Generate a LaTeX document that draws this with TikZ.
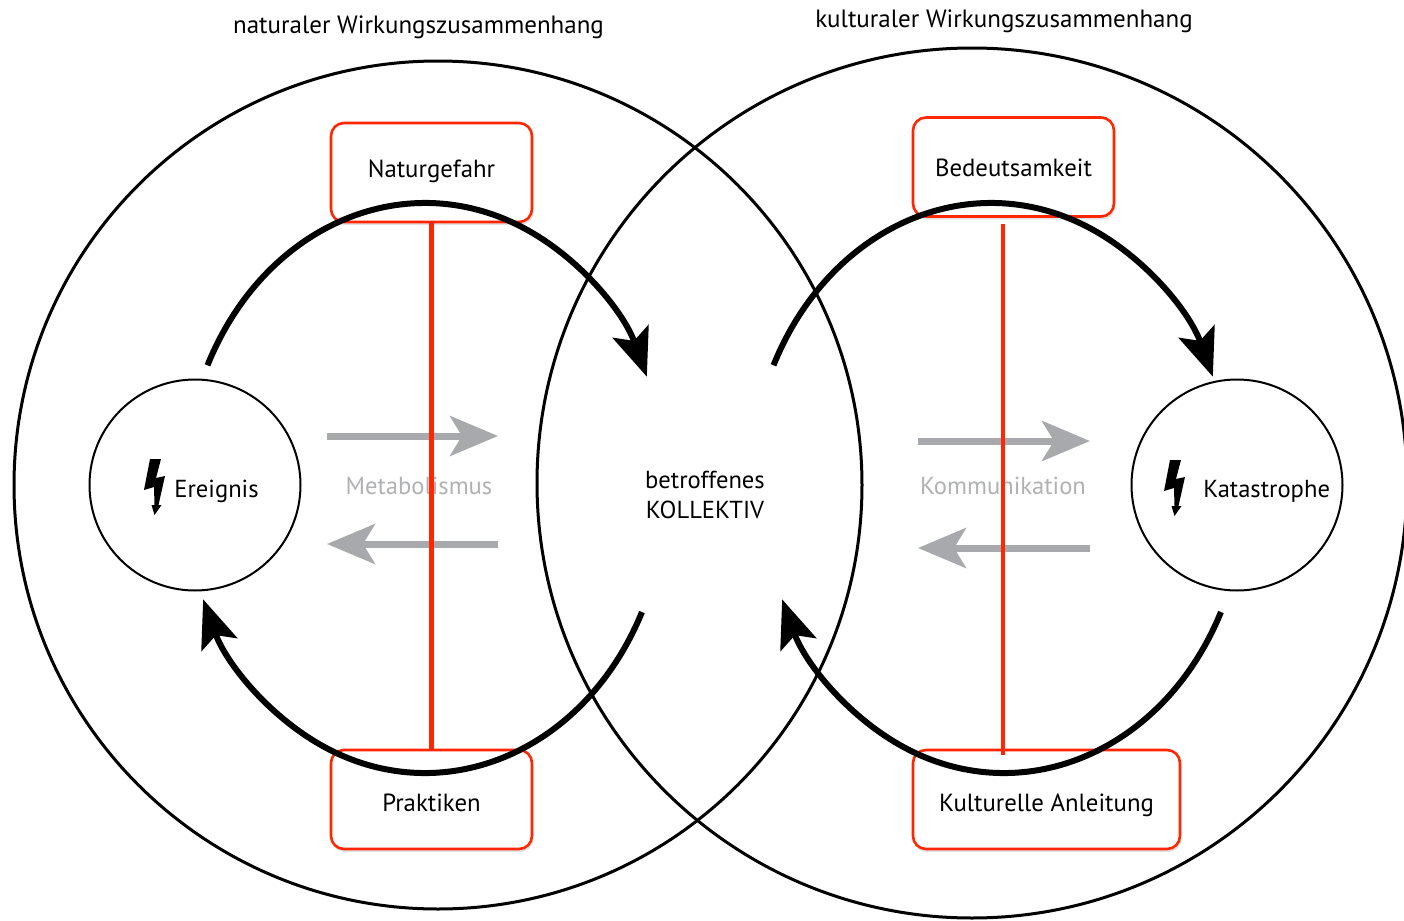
\documentclass[tikz,border=0pt]{standalone}
\usepackage{fontspec}
\setmainfont{PT Sans}
\usetikzlibrary{arrows.meta, shadows}
\tikzstyle{diagram} = [x = 0.5pt, y = -0.5pt]
\definecolor{boxRed}{RGB}{255,38,0}
\definecolor{arrowGray}{RGB}{167,169,172}
\definecolor{labelGray}{RGB}{176,177,179}
\tikzstyle{bigCircle} = [draw, circle, line width=1.5pt, inner sep=0pt]
\tikzstyle{eventCircle} = [draw, circle, line width=1pt, minimum size=105.5pt, inner sep=0pt]
\tikzstyle{redBox} = [draw=boxRed, fill=white, line width=1.3pt, rounded corners=6.5pt, minimum width=100.5pt, minimum height=49.5pt, text height=9pt, text depth=0pt, font=\fontsize{12.4}{14}\selectfont, drop shadow={shadow xshift=0.6pt, shadow yshift=-1.6pt, opacity=0.22}]
\tikzstyle{redLine} = [draw=boxRed, line width=2.4pt]
\tikzstyle{cycleArrow} = [line width=3pt, -{Stealth[length=24pt, width=19pt, inset=5pt]}]
\tikzstyle{grayArrow} = [draw=arrowGray, line width=3.5pt, -{Stealth[length=24pt, width=20pt, inset=6pt]}]
\tikzstyle{plainLabel} = [inner sep=0pt, font=\fontsize{12.3}{15}\selectfont]
\tikzstyle{grayLabel} = [plainLabel, text=labelGray]
\tikzstyle{titleLabel} = [plainLabel, anchor=base, font=\fontsize{12.5}{15}\selectfont]
\newcommand{\cycleArc}[3]{\draw [cycleArrow] ([shift={(#2:241 and 285)}]#1) arc [start angle=#2, end angle=#3, x radius=241, y radius=285];}
\newcommand{\lightningBolt}[2]{\fill [shift={(#1,#2)}] (0,0) -- (11,0) -- (6,19) -- (15,17) -- (8.5,46) -- (11.5,46) -- (4.5,56) -- (1.5,46) -- (4.5,46) -- (4,28) -- (-6,31) -- cycle;}

\begin{document}
\begin{tikzpicture}[diagram]
  \useasboundingbox (0,0) rectangle (1404,921);
  % the two fields
  \node [bigCircle, minimum size=424pt] (naturalField) at (438,485) {};
  \node [bigCircle, minimum size=435pt] (culturalField) at (972,483) {};
  \node [titleLabel] (naturalTitle) at (418.5,33) {naturaler Wirkungszusammenhang};
  \node [titleLabel] (culturalTitle) at (1004,27) {kulturaler Wirkungszusammenhang};
  % events
  \node [eventCircle] (ereignis) at (195,485) {};
  \node [eventCircle] (katastrophe) at (1237,485) {};
  \node [plainLabel, anchor=base west] (ereignisLabel) at ([shift={(-21,12)}]ereignis.center) {Ereignis};
  \node [plainLabel, anchor=base west] (katastropheLabel) at ([shift={(-34,12)}]katastrophe.center) {Katastrophe};
  \lightningBolt{150}{459}
  \lightningBolt{1170}{460}
  \node [plainLabel, align=center] (kollektiv) at (705,495) {betroffenes\\KOLLEKTIV};
  % exchange arrows
  \node [grayLabel] (metabolismus) at (419,486) {Metabolismus};
  \node [grayLabel] (kommunikation) at (1003,486) {Kommunikation};
  \draw [grayArrow] ([shift={(-92,-50)}]metabolismus.center) -- ++(171,0);
  \draw [grayArrow] ([shift={(79,58)}]metabolismus.center) -- ++(-171,0);
  \draw [grayArrow] ([shift={(-85,-45)}]kommunikation.center) -- ++(172,0);
  \draw [grayArrow] ([shift={(87,62)}]kommunikation.center) -- ++(-172,0);
  % boxes and axes
  \node [redBox, text height=5pt] (naturgefahr) at (431.5,172.5) {Naturgefahr};
  \node [redBox, text height=12pt] (praktiken) at (431.5,799.5) {Praktiken};
  \node [redBox] (bedeutsamkeit) at (1013.5,167) {Bedeutsamkeit};
  \node [redBox, text height=12pt, minimum width=133.5pt] (anleitung) at (1046.5,799.5) {Kulturelle Anleitung};
  \draw [redLine] (naturgefahr.south) -- (praktiken.north);
  \draw [redLine] ([xshift=-5.25pt, yshift=-3pt]bedeutsamkeit.south) -- ([xshift=-5.25pt, yshift=-3pt]bedeutsamkeit.south |- anleitung.north);
  % cycles
  \coordinate (naturalLoop) at (425,488);
  \coordinate (culturalTop) at (991,488);
  \coordinate (culturalBottom) at (1004,488);
  \cycleArc{naturalLoop}{-154.5}{-23}
  \cycleArc{naturalLoop}{25.8}{157}
  \cycleArc{culturalTop}{-154.5}{-23}
  \cycleArc{culturalBottom}{25.8}{157}
\end{tikzpicture}
\end{document}
